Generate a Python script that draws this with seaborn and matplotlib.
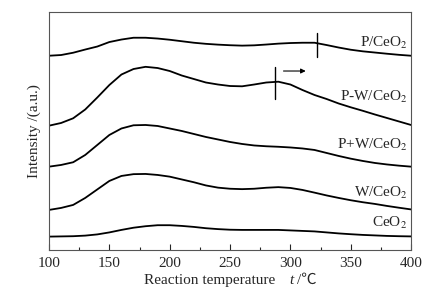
import numpy as np
import pandas as pd
import matplotlib
matplotlib.use('Agg')
import matplotlib.pyplot as plt
import seaborn as sns
from matplotlib.ticker import MultipleLocator

# temperature grid (deg C)
temps = [100, 110, 120, 130, 140, 150, 160, 170, 180, 190, 200, 210, 220, 230, 240, 250,
         260, 270, 280, 290, 300, 310, 320, 330, 340, 350, 360, 370, 380, 390, 400]

# intensities (a.u.), stacked curves
p_ceo2 = [194.3, 195.0, 197.3, 200.5, 203.5, 208.0, 210.5, 212.3, 212.3, 211.5, 210.3, 208.8,
          207.3, 206.2, 205.4, 204.8, 204.4, 204.7, 205.5, 206.4, 207.0, 207.3, 207.3, 205.0,
          202.5, 200.3, 198.7, 197.5, 196.3, 195.2, 194.3]
pw_ceo2 = [124.3, 127.0, 131.7, 140.5, 152.5, 165.0, 175.5, 181.0, 183.2, 182.0, 179.0, 174.5,
           171.0, 167.5, 165.5, 164.0, 163.7, 165.5, 167.5, 168.3, 165.5, 160.0, 155.0, 151.0,
           146.5, 142.7, 139.2, 135.5, 132.0, 128.5, 125.0]
ppw_ceo2 = [83.3, 85.0, 87.7, 95.0, 105.0, 115.0, 121.5, 124.7, 125.0, 124.0, 121.5, 119.0,
            116.0, 113.0, 110.5, 108.0, 106.0, 104.5, 103.7, 103.2, 102.5, 101.5, 100.0, 97.0,
            94.0, 91.3, 89.0, 87.0, 85.5, 84.3, 83.3]
w_ceo2 = [40.0, 42.0, 45.0, 52.0, 60.5, 69.0, 74.0, 75.8, 76.0, 75.0, 73.3, 70.5, 67.7, 64.5,
          62.3, 61.2, 60.8, 61.2, 62.2, 62.8, 62.0, 60.0, 57.3, 54.5, 52.0, 49.7, 47.7, 46.0,
          44.0, 42.2, 40.5]
ceo2 = [13.3, 13.5, 13.7, 14.3, 15.5, 17.5, 20.0, 22.2, 23.7, 24.7, 24.7, 24.0, 23.0, 21.7,
        20.8, 20.2, 20.0, 20.0, 20.0, 20.0, 19.5, 19.0, 18.5, 17.5, 16.5, 15.7, 15.0, 14.5,
        14.0, 13.7, 13.5]

samples = ['P/CeO$_2$', 'P-W/CeO$_2$', 'P+W/CeO$_2$', 'W/CeO$_2$', 'CeO$_2$']
label_y = [207, 153, 105, 57, 27]

# peak position markers
marker_t = [322, 287]
marker_lo = [193, 151]
marker_hi = [217, 183]

sns.set_style('white')
plt.rcParams['font.family'] = ['Liberation Serif', 'Noto Sans CJK SC', 'DejaVu Sans']
plt.rcParams['mathtext.fontset'] = 'stix'
plt.rcParams['font.size'] = 11

df = pd.DataFrame({'t': temps, samples[0]: p_ceo2, samples[1]: pw_ceo2,
                   samples[2]: ppw_ceo2, samples[3]: w_ceo2, samples[4]: ceo2})
long = df.melt(id_vars='t', var_name='sample', value_name='I')

fig = plt.figure(figsize=(4.3, 2.94), dpi=100)
ax = fig.add_axes([0.114, 0.15, 0.842, 0.809])

sns.lineplot(data=long, x='t', y='I', units='sample', estimator=None,
             color='black', lw=1.3, ax=ax)

for name, yy in zip(samples, label_y):
    ax.text(397, yy, name, ha='right', va='center', fontsize=11)

for t, lo, hi in zip(marker_t, marker_lo, marker_hi):
    ax.plot([t, t], [lo, hi], color='black', lw=1.0)
ax.annotate('', xy=(315, 179), xytext=(292, 179),
            arrowprops=dict(arrowstyle='-|>', color='black', lw=0.8, mutation_scale=7))

ax.set_xlim(100, 400)
ax.set_ylim(0, 238)
ax.xaxis.set_major_locator(MultipleLocator(50))
ax.xaxis.set_minor_locator(MultipleLocator(25))
ax.set_yticks([])
ax.tick_params(axis='x', which='major', direction='in', length=4, width=0.8,
               bottom=True, top=False, labelsize=11, pad=5)
ax.tick_params(axis='x', which='minor', direction='in', length=2.5, width=0.8,
               bottom=True, top=False)
for s in ax.spines.values():
    s.set_color('#555555')
    s.set_linewidth(0.8)

# x label pieces (℃ needs a font fallback, so keep it out of mathtext)
ax.set_xlabel('')
fig.text(0.335, 0.047, 'Reaction temperature', ha='left', va='center', fontsize=11)
fig.text(0.672, 0.047, 't', ha='left', va='center', fontsize=11, style='italic')
fig.text(0.690, 0.047, '/\u2103', ha='left', va='center', fontsize=11)
ax.set_ylabel('Intensity /(a.u.)', fontsize=11, labelpad=6)

fig.savefig('out.png', dpi=100)
